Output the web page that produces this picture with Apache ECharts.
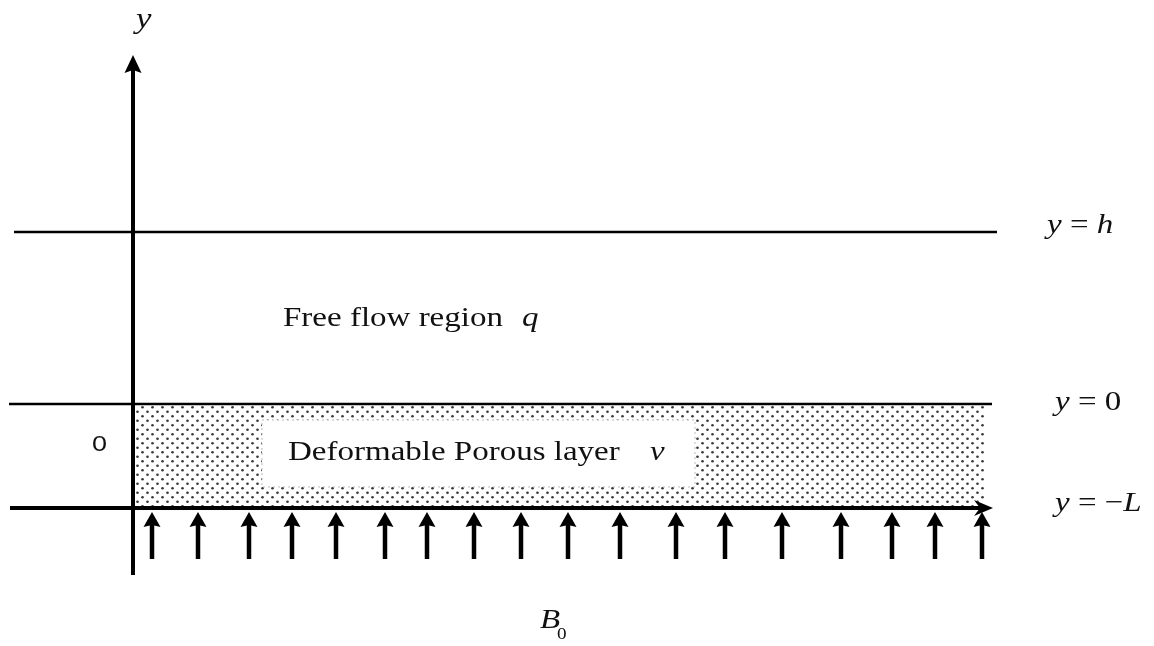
<!DOCTYPE html>
<html><head><meta charset="utf-8">
<script src="https://cdn.jsdelivr.net/npm/echarts@6/dist/echarts.min.js"></script>
<style>html,body{margin:0;padding:0;background:#fff}#c{width:1154px;height:646px}</style>
</head><body><div id="c"></div>
<script>
// ---- Diagram data (diagram units; origin where the y-axis meets y = 0) ----
const levelNames = ['h', '0', '\u2212L'];          // y = h, y = 0, y = -L
const levelY = [172, 0, -104];                      // heights of the three boundaries
const levelStartX = [-119, -124, -123];
const levelEndX = [864, 859, 860];
const fieldArrowX = [19, 65, 116, 159, 203, 252, 294, 341, 388, 435, 487, 543, 592, 649, 708, 759, 802, 849];
const regionTitles = ['Free flow region', 'Deformable Porous layer'];
const regionVars = ['q', 'v'];
const axisName = 'y';
const fieldName = 'B';
const fieldSub = '0';
const sideLabel = '0';

// ---- layout (not data) ----
const SX = 1.2; // horizontal stretch of the original figure text
const SERIF = '"Liberation Serif", "DejaVu Serif", serif';
const SANS = '"Liberation Sans", Arial, sans-serif';

function dotPattern() {
  const c = document.createElement('canvas');
  c.width = 10; c.height = 9;
  const g = c.getContext('2d');
  g.fillStyle = '#3a3a3a';
  [[2.5, 2.25], [7.5, 6.75]].forEach(([x, y]) => { g.beginPath(); g.arc(x, y, 1.35, 0, Math.PI * 2); g.fill(); });
  return c;
}
const pattern = { image: dotPattern(), repeat: 'repeat' };

const chart = echarts.init(document.getElementById('c'));

const levelData = levelY.map((y, i) => [levelStartX[i], levelEndX[i], y]);

function txt(api, dx, dy, text, opts) {
  const p = api.coord([dx, dy]);
  return {
    type: 'text', x: p[0], y: p[1], scaleX: SX,
    style: Object.assign({
      text: text, x: 0, y: 0, align: 'left', verticalAlign: 'middle',
      fill: '#111', fontFamily: SERIF, fontSize: 27.5
    }, opts || {})
  };
}

const option = {
  animation: false,
  backgroundColor: '#fff',
  grid: { left: 0, right: 0, top: 0, bottom: 0, containLabel: false },
  xAxis: { type: 'value', min: -133, max: 1021, show: false },
  yAxis: { type: 'value', min: -242, max: 404, show: false },
  series: [
    { // porous layer
      type: 'custom', z: 1, silent: true, data: [[2, 852, -1, -103]],
      renderItem: (params, api) => {
        const a = api.coord([api.value(0), api.value(2)]);
        const b = api.coord([api.value(1), api.value(3)]);
        return { type: 'rect', shape: { x: a[0], y: a[1], width: b[0] - a[0], height: b[1] - a[1] }, style: { fill: pattern } };
      }
    },
    { // white label box inside the layer
      type: 'custom', z: 2, silent: true, data: [[129, 562, -16, -83]],
      renderItem: (params, api) => {
        const a = api.coord([api.value(0), api.value(2)]);
        const b = api.coord([api.value(1), api.value(3)]);
        return { type: 'rect', shape: { x: a[0], y: a[1], width: b[0] - a[0], height: b[1] - a[1] },
          style: { fill: '#fff', stroke: '#aaa', lineWidth: 0.8, lineDash: [2, 3] } };
      }
    },
    { // boundary lines
      type: 'custom', z: 3, silent: true, data: levelData,
      renderItem: (params, api) => {
        const y = api.value(2);
        const a = api.coord([api.value(0), y]);
        const b = api.coord([api.value(1), y]);
        if (params.dataIndex !== levelY.length - 1) {
          return { type: 'line', shape: { x1: a[0], y1: a[1], x2: b[0], y2: b[1] }, style: { stroke: '#000', lineWidth: 2.5 } };
        }
        return { type: 'group', children: [
          { type: 'line', shape: { x1: a[0], y1: a[1], x2: b[0] - 12, y2: b[1] }, style: { stroke: '#000', lineWidth: 4 } },
          { type: 'polygon', shape: { points: [[b[0], b[1]], [b[0] - 19, b[1] - 8], [b[0] - 13, b[1]], [b[0] - 19, b[1] + 8]] }, style: { fill: '#000' } }
        ] };
      }
    },
    { // vertical y axis with arrow
      type: 'custom', z: 3, silent: true, data: [[0, -171, 349]],
      renderItem: (params, api) => {
        const a = api.coord([api.value(0), api.value(1)]);
        const t = api.coord([api.value(0), api.value(2)]);
        return { type: 'group', children: [
          { type: 'line', shape: { x1: a[0], y1: a[1], x2: t[0], y2: t[1] + 14 }, style: { stroke: '#000', lineWidth: 4 } },
          { type: 'polygon', shape: { points: [[t[0], t[1]], [t[0] + 8.5, t[1] + 18], [t[0], t[1] + 15], [t[0] - 8.5, t[1] + 18]] }, style: { fill: '#000' } }
        ] };
      }
    },
    { // field arrows (B0)
      type: 'custom', z: 3, silent: true, data: fieldArrowX.map(x => [x]),
      renderItem: (params, api) => {
        const p = api.coord([api.value(0), levelY[levelY.length - 1]]);
        const x = p[0], tip = p[1] + 4, bottom = p[1] + 51;
        return { type: 'group', children: [
          { type: 'line', shape: { x1: x, y1: tip + 12, x2: x, y2: bottom }, style: { stroke: '#000', lineWidth: 4.5 } },
          { type: 'polygon', shape: { points: [[x, tip], [x + 8.5, tip + 15], [x, tip + 13], [x - 8.5, tip + 15]] }, style: { fill: '#000' } }
        ] };
      }
    },
    { // texts
      type: 'custom', z: 4, silent: true, data: [[0]],
      renderItem: (params, api) => {
        const rich = { i: { fontStyle: 'italic', fontFamily: SERIF, fontSize: 27.5, fill: '#111' },
                       r: { fontFamily: SERIF, fontSize: 27.5, fill: '#111' } };
        const labelPos = [[914, 178.5], [922, 1.5], [922, -99.5]];
        const children = [];
        levelNames.forEach((n, i) => {
          let s;
          if (n === '0') s = '{i|y}{r| = ' + n + '}';
          else if (n.startsWith('\u2212')) s = '{i|y}{r| = \u2212}{i|' + n.slice(1) + '}';
          else s = '{i|y}{r| = }{i|' + n + '}';
          children.push(txt(api, labelPos[i][0], labelPos[i][1], s, { rich: rich }));
        });
        children.push(txt(api, 3, 384, axisName, { fontStyle: 'italic', fontSize: 29 }));
        children.push(txt(api, 150, 85.5, regionTitles[0]));
        children.push(txt(api, 389, 85.5, regionVars[0], { fontStyle: 'italic' }));
        children.push(txt(api, 155, -48.5, regionTitles[1]));
        children.push(txt(api, 517, -48.5, regionVars[1], { fontStyle: 'italic' }));
        children.push(txt(api, -41, -41, sideLabel, { fontFamily: SANS, fontSize: 22.5 }));
        children.push(txt(api, 407, -216.5, fieldName, { fontStyle: 'italic' }));
        children.push(txt(api, 424, -230.5, fieldSub, { fontSize: 16 }));
        return { type: 'group', children: children };
      }
    }
  ]
};
chart.setOption(option);
</script>
</body></html>
